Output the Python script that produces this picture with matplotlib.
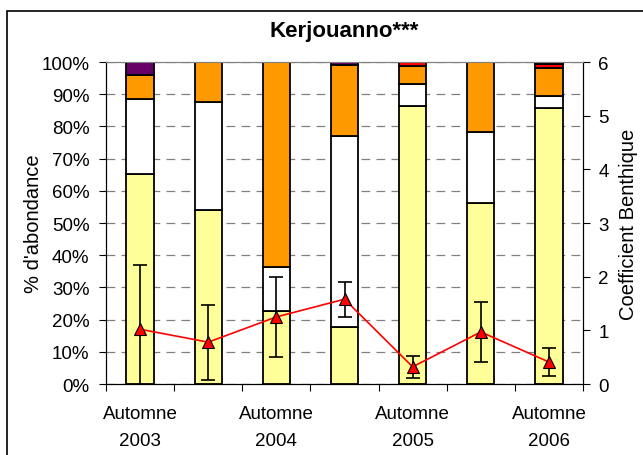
import matplotlib.pyplot as plt
import numpy as np
from matplotlib.patches import Rectangle

plt.rcParams['font.family'] = ['Liberation Sans', 'DejaVu Sans']

# data
cats = ['Automne\n2003', '', 'Automne\n2004', '', 'Automne\n2005', '', 'Automne\n2006']
yellow = [65.2, 54.0, 22.7, 17.7, 86.3, 56.2, 85.7]
white = [23.3, 33.6, 13.6, 59.3, 6.9, 22.1, 3.8]
orange = [7.5, 12.4, 63.7, 22.0, 5.6, 21.7, 8.6]
red = [0.0, 0.0, 0.0, 0.0, 1.2, 0.0, 1.2]
purple = [4.0, 0.0, 0.0, 1.0, 0.0, 0.0, 0.7]
coef = [1.02, 0.78, 1.25, 1.58, 0.32, 0.97, 0.41]
coef_err = [1.2, 0.7, 0.74, 0.33, 0.2, 0.56, 0.27]

fig = plt.figure(figsize=(6.43, 4.56), dpi=100)
ax = fig.add_axes([0.1649, 0.1557, 0.7418, 0.7061])
fig.patches.append(Rectangle((7/643, -0.1), 1.2, 1 - 12/456 + 0.1, transform=fig.transFigure,
                             fill=False, edgecolor='black', linewidth=1.2))

x = np.arange(len(cats))
bottom = np.zeros(len(cats))
for vals, col in [(yellow, '#FFFF99'), (white, 'white'), (orange, '#FF9900'),
                  (red, '#FF0000'), (purple, '#660066')]:
    ax.bar(x, vals, width=0.4, bottom=bottom, color=col, edgecolor='black', linewidth=1.3, zorder=3)
    bottom += np.array(vals)

ax.set_xlim(-0.5, 6.5)
ax.set_ylim(0, 100)
ax.set_yticks(np.arange(0, 101, 10))
ax.set_yticklabels([f'{v}%' for v in range(0, 101, 10)])
ax.yaxis.grid(True, color='#808080', linestyle=(0, (7, 5)), linewidth=0.9, zorder=0)
ax.set_axisbelow(True)

ax.set_xticks(np.arange(-0.5, 7, 1))
ax.set_xticklabels([])
ax.set_xticks([0.0, 2.0, 4.0, 6.0], minor=True)
ax.set_xticklabels(['Automne\n2003', 'Automne\n2004', 'Automne\n2005', 'Automne\n2006'],
                   minor=True, linespacing=1.75)
ax.tick_params(axis='x', which='minor', length=0, pad=15, labelsize=13.5)
ax.tick_params(axis='x', which='major', length=5, direction='out')
ax.tick_params(axis='y', length=5, labelsize=13.5, pad=7)
ax.set_ylabel("% d'abondance", fontsize=14.5, labelpad=-1)
ax.spines['top'].set_color('#808080')

ax2 = ax.twinx()
ax2.errorbar(x, coef, yerr=coef_err, fmt='none', ecolor='black', elinewidth=1.2,
             capsize=5, capthick=1.2, zorder=4)
ax2.plot(x, coef, color='#FF0000', linewidth=1.2, marker='^', markersize=9,
         markerfacecolor='#FF0000', markeredgecolor='black', markeredgewidth=0.8, zorder=5)
ax2.set_ylim(0, 6)
ax2.set_yticks(range(7))
ax2.tick_params(axis='y', length=5, labelsize=13.5, pad=6)
ax2.set_ylabel('Coefficient Benthique', fontsize=14.5, labelpad=7)
ax2.spines['top'].set_color('#808080')

ax.set_title('Kerjouanno***', fontsize=16, fontweight='bold', pad=19)

fig.savefig('out.png', dpi=100)
